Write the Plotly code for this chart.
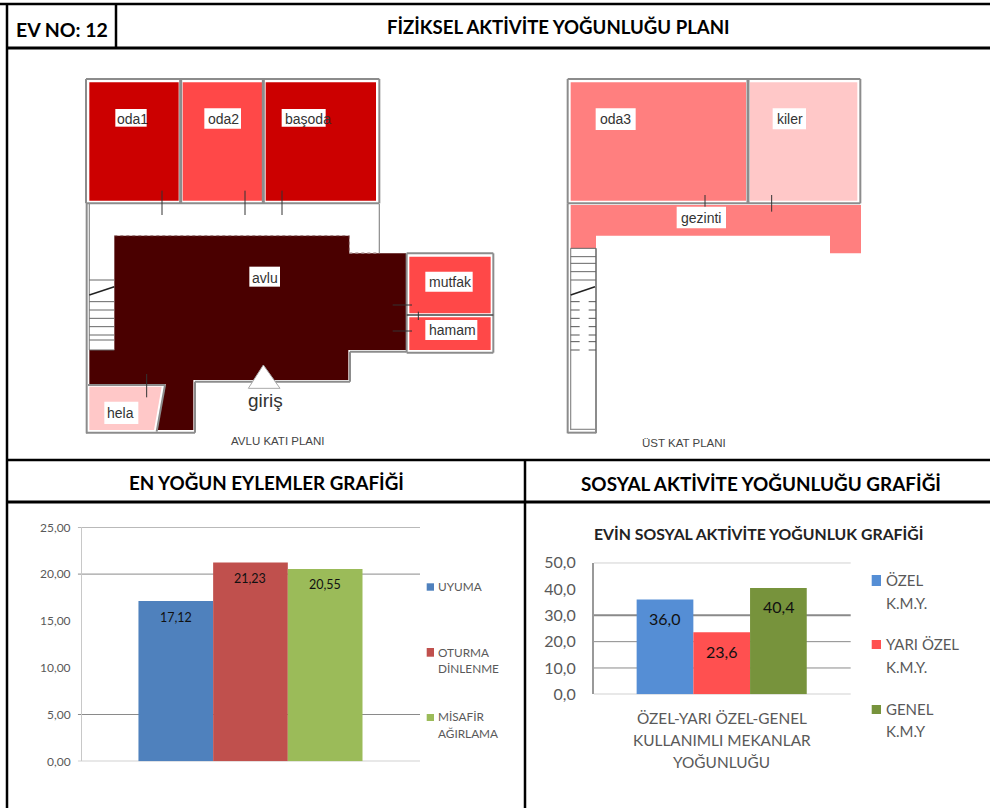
import plotly.graph_objects as go

# ---- chart data ----
activity_names = ["UYUMA", "OTURMA<br>DİNLENME", "MİSAFİR<br>AĞIRLAMA"]
activity_values = [17.12, 21.23, 20.55]
activity_labels = ["17,12", "21,23", "20,55"]
activity_colors = ["#4F81BD", "#C0504D", "#9BBB59"]
activity_ticks = [0, 5, 10, 15, 20, 25]
activity_ticktext = ["0,00", "5,00", "10,00", "15,00", "20,00", "25,00"]

social_names = ["ÖZEL<br>K.M.Y.", "YARI ÖZEL<br>K.M.Y.", "GENEL<br>K.M.Y"]
social_values = [36.0, 23.6, 40.4]
social_labels = ["36,0", "23,6", "40,4"]
social_colors = ["#558ED5", "#FF5050", "#77933C"]
social_ticks = [0, 10, 20, 30, 40, 50]
social_ticktext = ["0,0", "10,0", "20,0", "30,0", "40,0", "50,0"]

W, H = 990, 808
SANS = "Liberation Sans"
LATO = "Lato"
GREY = "#595959"
WALL = "#8C8C8C"
shapes, annos = [], []


def text(x, y, s, size, color="#000", bold=False, family=LATO, anchor="center"):
    if bold:
        s = f"<b>{s}</b>"
    annos.append(dict(x=x, y=y, xref="x3", yref="y3", text=s, showarrow=False,
                      xanchor=anchor, yanchor="middle",
                      font=dict(size=size, color=color, family=family)))


def line(x0, y0, x1, y1, color="#000", width=1.0, dash=None):
    shapes.append(dict(type="line", x0=x0, y0=y0, x1=x1, y1=y1, xref="x3", yref="y3", layer="above",
                       line=dict(color=color, width=width, dash=dash)))


def rect(x0, y0, x1, y1, fill, color=None, width=0):
    shapes.append(dict(type="rect", x0=x0, y0=y0, x1=x1, y1=y1, xref="x3", yref="y3", layer="above",
                       fillcolor=fill, line=dict(color=color or fill, width=width)))


def poly(pts, ox, fill):
    """Floor-plan polygon given in 3x zoomed plan units."""
    return go.Scatter(x=[ox + p[0] / 3 for p in pts] + [ox + pts[0][0] / 3],
                      y=[p[1] / 3 for p in pts] + [pts[0][1] / 3],
                      xaxis="x3", yaxis="y3", mode="lines", fill="toself", fillcolor=fill,
                      line=dict(width=0, color=fill), hoverinfo="skip", showlegend=False)


traces = []

# ---- bar charts on their own axes ----
for name, val, col in zip(activity_names, activity_values, activity_colors):
    traces.append(go.Bar(x=[name], y=[val], width=1, marker=dict(color=col, line=dict(width=0)),
                         name=name.replace("<br>", " "), xaxis="x", yaxis="y", showlegend=False))
for name, val, col in zip(social_names, social_values, social_colors):
    traces.append(go.Bar(x=[name], y=[val], width=1, marker=dict(color=col, line=dict(width=0)),
                         name=name.replace("<br>", " "), xaxis="x2", yaxis="y2", showlegend=False))

for name, val, lab in zip(activity_names, activity_values, activity_labels):
    annos.append(dict(x=name, y=val, xref="x", yref="y", text=lab, showarrow=False, yshift=-16,
                      yanchor="middle", font=dict(size=12.5, color="#111", family=LATO)))
for name, val, lab in zip(social_names, social_values, social_labels):
    annos.append(dict(x=name, y=val, xref="x2", yref="y2", text=lab, showarrow=False, yshift=-19,
                      yanchor="middle", font=dict(size=16, color="#111", family=LATO)))

# gridlines visible in the reference
for v in [0, 5, 20, 25]:
    shapes.append(dict(type="line", xref="x domain", yref="y", x0=-0.012, x1=1, y0=v, y1=v, layer="below",
                       line=dict(color="#8A8A8A", width=1)))
for v, w in [(0, 1), (10, 1), (20, 1), (30, 2), (50, 1)]:
    shapes.append(dict(type="line", xref="x2 domain", yref="y2", x0=0, x1=1, y0=v, y1=v, layer="below",
                       line=dict(color="#8A8A8A", width=w)))

# ---- table frame ----
line(0, 4, W, 4, width=2.5)
line(7, 4, 7, H, width=2.5)
line(7, 48, W, 48, width=3)
line(116, 4, 116, 48, width=2.5)
line(7, 460, W, 460, width=2.5)
line(7, 502, W, 502, width=3)
line(525, 460, 525, H, width=2.5)

text(62, 29, "EV NO: 12", 19.5, bold=True)
text(558, 27, "FİZİKSEL AKTİVİTE YOĞUNLUĞU PLANI", 18.6, bold=True)
text(266.5, 482, "EN YOĞUN EYLEMLER GRAFİĞİ", 18.8, bold=True)
text(761, 483, "SOSYAL AKTİVİTE YOĞUNLUĞU GRAFİĞİ", 18.9, bold=True)
text(758, 533, "EVİN SOSYAL AKTİVİTE YOĞUNLUK GRAFİĞİ", 15.8, color="#222", bold=True)
for y, s in zip([718, 740, 762], ["ÖZEL-YARI ÖZEL-GENEL", "KULLANIMLI MEKANLAR", "YOĞUNLUĞU"]):
    text(721.7, y, s, 15.4, color=GREY)

# ---- manual compact legends ----
for name, col, (y0, y1), ys in zip(activity_names, activity_colors,
                                   [(583.3, 590.7), (648, 656.7), (714, 721)],
                                   [[586.7], [652.3, 668.3], [716.7, 733.3]]):
    rect(426.7, y0, 434, y1, col)
    for y, s in zip(ys, name.split("<br>")):
        text(435.5, y, s, 11.8, color=GREY, anchor="left")
for name, col, (y0, y1), ys in zip(social_names, social_colors,
                                   [(575, 586), (640, 649), (705, 714)],
                                   [[580, 602.7], [644.3, 666.7], [709.3, 731]]):
    rect(871.7, y0, 881, y1, col)
    for y, s in zip(ys, name.split("<br>")):
        text(883.7, y, s, 15, color=GREY, anchor="left")

# ---- ground floor plan (3x zoomed units) ----
DARK, RED, MID, SOFT, PALE = "#4A0000", "#CC0000", "#FF4848", "#FF7F7F", "#FFC8C8"
ground_rooms = [
    ([(268, 247), (536, 247), (536, 602), (268, 602)], RED),
    ([(548, 247), (786, 247), (786, 602), (548, 602)], MID),
    ([(797, 247), (1128, 247), (1128, 602), (797, 602)], RED),
    ([(343, 707), (1048, 707), (1048, 760), (1218, 760), (1218, 1050), (1045, 1050), (1045, 1140),
      (580, 1140), (580, 1290), (470, 1290), (497, 1152), (268, 1152), (268, 1050), (343, 1050)], DARK),
    ([(1228, 770), (1472, 770), (1472, 940), (1228, 940)], MID),
    ([(1228, 952), (1472, 952), (1472, 1050), (1228, 1050)], MID),
    ([(268, 1160), (485, 1160), (462, 1290), (268, 1290)], PALE),
]
for pts, col in ground_rooms:
    traces.append(poly(pts, 0, col))
upper_rooms = [
    ([(212, 247), (738, 247), (738, 602), (212, 602)], SOFT),
    ([(750, 247), (1072, 247), (1072, 602), (750, 602)], PALE),
    ([(212, 615), (1083, 615), (1083, 760), (990, 760), (990, 707), (288, 707), (288, 745), (212, 745)], SOFT),
]
for pts, col in upper_rooms:
    traces.append(poly(pts, 500, col))


def wall(x0, y0, x1, y1, ox=0, color=WALL, width=2, dash=None):
    line(ox + x0 / 3, y0 / 3, ox + x1 / 3, y1 / 3, color=color, width=width, dash=dash)


def wrect(x0, y0, x1, y1, ox=0, color=WALL, width=2):
    wall(x0, y0, x1, y0, ox, color, width)
    wall(x1, y0, x1, y1, ox, color, width)
    wall(x1, y1, x0, y1, ox, color, width)
    wall(x0, y1, x0, y0, ox, color, width)


# ground floor walls
wrect(258, 237, 1138, 610)
wall(542, 237, 542, 610, width=3)
wall(790, 237, 790, 610, width=3)
wall(260, 610, 260, 1300)
wall(268, 612, 268, 1050, width=1.2)
wall(1138, 612, 1138, 760, width=1.2)
wall(258, 1298, 585, 1298)
wall(585, 1298, 585, 1145)
wall(585, 1145, 1050, 1145)
wall(1050, 1145, 1050, 1055)
wall(1050, 1055, 1218, 1055)
wrect(1220, 760, 1480, 1058)
wall(1220, 945, 1480, 945, color="#444", width=1.5)
wall(264, 1155, 495, 1155)
wall(495, 1155, 470, 1295)
wall(343, 707, 1048, 707, color="#9A7A7A", width=1, dash="dot")
wall(1048, 707, 1048, 760, color="#9A7A7A", width=1, dash="dot")
wall(1048, 760, 1135, 760, color="#9A7A7A", width=1.5, dash="dot")
for x in [486, 735, 846]:
    wall(x, 572, x, 645, color="#333", width=1)
wall(440, 1122, 440, 1192, color="#333", width=1)
wall(1178, 915, 1236, 915, color="#333", width=1)
wall(1178, 993, 1236, 993, color="#333", width=1)
wall(1255, 935, 1255, 960, color="#333", width=1)
for y in [840, 905, 930, 955, 980, 1005, 1020, 1050]:
    wall(268, y, 343, y, color="#666", width=1)
wall(268, 885, 343, 860, color="#222", width=1.5)

# entrance marker
shapes.append(dict(type="path", path=f"M {790/3} {1095/3} L {745/3} {1165/3} L {840/3} {1165/3} Z",
                   xref="x3", yref="y3", layer="above", fillcolor="#FFFFFF", line=dict(color="#AAAAAA", width=1)))
text(265, 400, "giriş", 19, color="#333", family=SANS)
text(278, 441, "AVLU KATI PLANI", 11.5, color="#444", family=SANS)

# upper floor walls
wrect(203, 237, 1081, 610, 500)
wall(744, 237, 744, 610, 500, width=3)
wall(203, 610, 203, 1300, 500)
wall(212, 745, 212, 1290, 500, width=1.2)
wall(288, 745, 288, 1300, 500)
wall(203, 1298, 288, 1298, 500)
wall(212, 1288, 288, 1288, 500, width=1.2)
for x in [615, 815]:
    wall(x, 585, x, 635, 500, color="#333", width=1)
for y in [745, 770, 790, 815, 840]:
    wall(212, y, 288, y, 500, color="#666", width=1)
wall(212, 885, 285, 860, 500, color="#222", width=1.5)
for y in [905, 930, 955, 980, 1005, 1025, 1050]:
    wall(212, y, 288, y, 500, color="#555", width=1, dash="dash")
text(684, 443, "ÜST KAT PLANI", 11.5, color="#444", family=SANS)

# room labels: white plates with the text drawn on top
room_labels = [
    (0, "oda1", 346, 327, 440, 380, 396, 358),
    (0, "oda2", 613, 325, 723, 386, 671, 358),
    (0, "başoda", 845, 327, 977, 380, 924, 358),
    (0, "avlu", 748, 800, 840, 860, 795, 833),
    (0, "mutfak", 1276, 815, 1418, 875, 1351, 847),
    (0, "hamam", 1276, 960, 1432, 1020, 1358, 991),
    (0, "hela", 313, 1205, 415, 1272, 362, 1238),
    (500, "oda3", 287, 325, 407, 390, 345, 357),
    (500, "kiler", 818, 325, 918, 388, 869, 357),
    (500, "gezinti", 530, 620, 678, 685, 602, 653),
]
for ox, s, x0, y0, x1, y1, cx, cy in room_labels:
    rect(ox + x0 / 3, y0 / 3, ox + x1 / 3, y1 / 3, "#FFFFFF")
    text(ox + cx / 3, cy / 3, s, 14, color="#333", family=SANS)

fig = go.Figure(traces)

fig.update_layout(
    width=W, height=H, margin=dict(l=0, r=0, t=0, b=0, autoexpand=False),
    paper_bgcolor="#FFFFFF", plot_bgcolor="rgba(0,0,0,0)",
    barmode="overlay", showlegend=False, shapes=shapes, annotations=annos,
    xaxis=dict(domain=[82 / W, 420 / W], range=[-1.256, 3.27], showgrid=False, zeroline=False,
               showticklabels=False, ticks="", fixedrange=True, anchor="y", automargin=False),
    yaxis=dict(domain=[1 - 761.3 / H, 1 - 527.3 / H], range=[0, 25], tickvals=activity_ticks,
               ticktext=activity_ticktext, showgrid=False, zeroline=False, showline=True,
               linecolor="#C8C8C8", linewidth=1, ticks="outside", ticklen=8, tickcolor="rgba(0,0,0,0)",
               tickfont=dict(size=12, color=GREY, family=LATO), anchor="x",
               fixedrange=True, automargin=False),
    xaxis2=dict(domain=[594 / W, 850.7 / W], range=[-1.252, 3.275], showgrid=False, zeroline=False,
                showticklabels=False, ticks="", fixedrange=True, anchor="y2", automargin=False),
    yaxis2=dict(domain=[1 - 694.3 / H, 1 - 562.7 / H], range=[0, 50], tickvals=social_ticks,
                ticktext=social_ticktext, showgrid=False, zeroline=False, showline=True,
                linecolor="#999999", linewidth=2, ticks="outside", ticklen=13, tickcolor="rgba(0,0,0,0)",
                tickfont=dict(size=16, color=GREY, family=LATO),
                anchor="x2", fixedrange=True, automargin=False),
    xaxis3=dict(domain=[0, 1], range=[0, W], visible=False, fixedrange=True, anchor="y3", automargin=False),
    yaxis3=dict(domain=[0, 1], range=[H, 0], visible=False, fixedrange=True, anchor="x3", automargin=False),
)
fig.write_html("out.html", post_script="document.body.style.margin='0';",
               config=dict(displayModeBar=False))
